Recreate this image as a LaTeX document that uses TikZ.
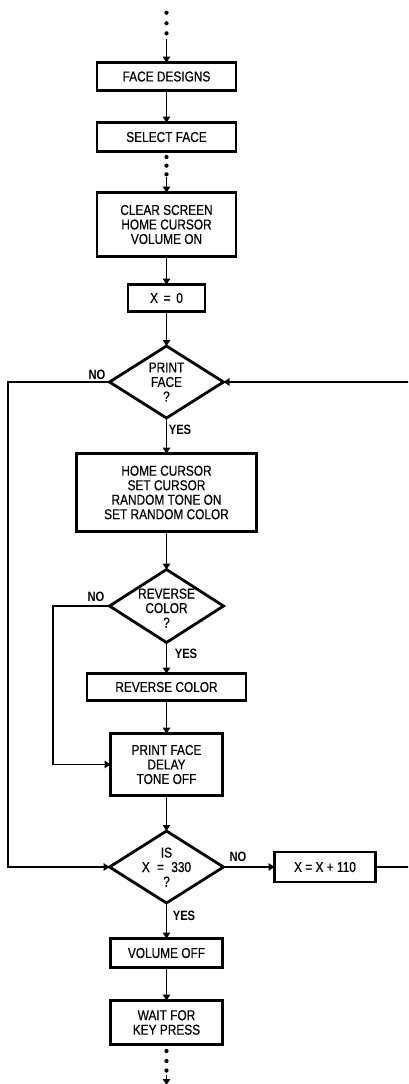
\documentclass[tikz,border=0pt]{standalone}
\usepackage{fontspec}
\setmainfont{Liberation Sans}[FakeStretch=0.83, FakeBold=0.5]
\newfontfamily\lblfont{Liberation Sans}[FakeStretch=0.83]
\usetikzlibrary{shapes.geometric,arrows.meta}
\begin{document}
\begin{tikzpicture}[x=1pt,y=-1pt,
  pbox/.style={draw,line width=2.8pt,inner sep=0pt,outer sep=0pt,align=center,
    font=\fontsize{14.3}{14.5}\selectfont},
  dia/.style={draw,shape=diamond,line width=2.8pt,inner sep=0pt,outer sep=0pt},
  dtext/.style={align=center,inner sep=0pt,font=\fontsize{14.3}{14.5}\selectfont},
  lbl/.style={inner sep=0pt,font=\fontsize{13.5}{13.5}\lblfont\bfseries},
  conn/.style={line width=1.6pt},
  arr/.style={conn,-{Triangle[length=6pt,width=7.5pt]}},
  dotc/.style={fill=black}]
\useasboundingbox (0,0) rectangle (408,1084);
\clip (0,0) rectangle (408,1084);
% nodes
\node[pbox,minimum width=139,minimum height=28] (b1) at (166.5,76.5) {FACE DESIGNS};
\node[pbox,minimum width=139,minimum height=29] (b2) at (166.5,137) {SELECT FACE};
\node[pbox,minimum width=139,minimum height=64] (b3) at (166.5,224.5) {CLEAR SCREEN\\HOME CURSOR\\VOLUME ON};
\node[pbox,minimum width=77,minimum height=27] (b4) at (166.5,298) {X \,=\, 0};
\node[dia,minimum width=114,minimum height=72] (d1) at (166.5,382) {};
\node[dtext] (d1t) at (166.5,382) {PRINT\\FACE\\?};
\node[pbox,minimum width=180,minimum height=78] (b5) at (166.5,492.5) {HOME CURSOR\\SET CURSOR\\RANDOM TONE ON\\SET RANDOM COLOR};
\node[dia,minimum width=114,minimum height=73] (d2) at (166.5,606) {};
\node[dtext] (d2t) at (166.5,608) {REVERSE\\COLOR\\?};
\node[pbox,minimum width=159,minimum height=27] (b6) at (166.5,687) {REVERSE COLOR};
\node[pbox,minimum width=112,minimum height=62] (b7) at (166.5,764.5) {PRINT FACE\\DELAY\\TONE OFF};
\node[dia,minimum width=114,minimum height=72] (d3) at (166.5,867) {};
\node[dtext] (d3t) at (166.5,867) {IS\\X \;=\; 330\\?};
\node[pbox,minimum width=101,minimum height=30] (inc) at (325,867) {X = X + 110};
\node[pbox,minimum width=112,minimum height=29] (b8) at (166.5,953) {VOLUME OFF};
\node[pbox,minimum width=112,minimum height=44] (b9) at (166.5,1022.5) {WAIT FOR\\KEY PRESS};
% labels
\node[lbl] (n1) at (97,375) {NO};
\node[lbl] (y1) at (180,430) {YES};
\node[lbl] (n2) at (96,597) {NO};
\node[lbl] (y2) at (186,654) {YES};
\node[lbl] (n3) at (238,857) {NO};
\node[lbl] (y3) at (184,916) {YES};
% dots
\foreach \yy in {12.7,23.3,33.3} \fill[dotc] (166.5,\yy) circle (2.1);
\foreach \yy in {157,165.7,174.3} \fill[dotc] (166.5,\yy) circle (2.1);
\foreach \yy in {1051,1061,1070.5} \fill[dotc] (166.5,\yy) circle (2.1);
\coordinate (t0) at (166.5,39);
\coordinate (m0) at (166.5,177);
\coordinate (e0) at (166.5,1075);
\coordinate (e1) at (166.5,1085);
\coordinate (l1) at (8,382);
\coordinate (l2) at (53,606);
\coordinate (rr) at (418,867);
% connectors
\draw[arr] (t0) -- (b1.north);
\draw[arr] (b1) -- (b2);
\draw[arr] (m0) -- (b3.north);
\draw[arr] (b3) -- (b4);
\draw[arr] (b4) -- (d1.north);
\draw[arr] (d1.south) -- (b5.north);
\draw[arr] (b5) -- (d2.north);
\draw[arr] (d2.south) -- (b6.north);
\draw[arr] (b6) -- (b7);
\draw[arr] (b7) -- (d3.north);
\draw[arr] (d3.south) -- (b8.north);
\draw[arr] (b8) -- (b9);
\draw[arr] (e0) -- (e1);
\draw[arr] (d1.west) -- (l1) |- (d3.west);
\draw[arr] (d2.west) -- (l2) |- (b7.west);
\draw[arr] (d3.east) -- (inc.west);
\draw[arr] (inc.east) -- (rr) |- (d1.east);
\end{tikzpicture}
\end{document}
